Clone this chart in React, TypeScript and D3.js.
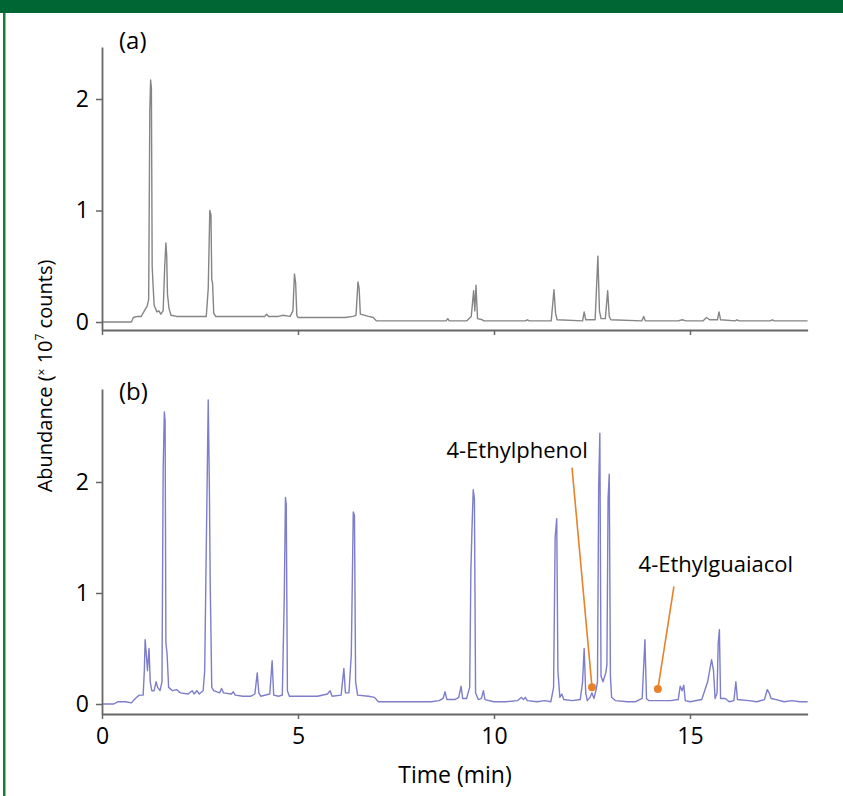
import React, { useEffect, useRef } from 'react';
import * as d3 from 'd3';

// time (min), abundance (x 10^7 counts)
const chromA: [number, number][] = [
    [0, 0], [0.75, 0], [0.8, 0.04], [0.9, 0.05], [1.0, 0.05], [1.08, 0.1], [1.15, 0.14], [1.19, 0.2],
    [1.22, 1.9], [1.24, 2.17], [1.26, 2.1], [1.28, 0.5], [1.3, 0.35], [1.33, 0.15], [1.4, 0.09], [1.45, 0.1],
    [1.5, 0.07], [1.56, 0.1], [1.6, 0.5], [1.63, 0.71], [1.65, 0.6], [1.67, 0.25], [1.71, 0.12], [1.76, 0.06],
    [1.9, 0.05], [2.3, 0.05], [2.66, 0.05], [2.71, 0.3], [2.75, 1.0], [2.78, 0.96], [2.8, 0.38], [2.82, 0.35],
    [2.85, 0.08], [2.9, 0.05], [3.5, 0.05], [4.15, 0.05], [4.2, 0.07], [4.25, 0.05], [4.5, 0.05], [4.6, 0.06],
    [4.8, 0.05], [4.87, 0.1], [4.91, 0.43], [4.94, 0.35], [4.97, 0.06], [5.0, 0.04], [5.6, 0.04], [6.2, 0.04],
    [6.4, 0.05], [6.48, 0.06], [6.53, 0.36], [6.56, 0.3], [6.59, 0.07], [6.8, 0.05], [6.92, 0.04], [7.0, 0.01],
    [8.0, 0.01], [8.78, 0.01], [8.82, 0.03], [8.86, 0.01], [9.3, 0.01], [9.42, 0.05], [9.48, 0.28], [9.51, 0.1],
    [9.54, 0.33], [9.58, 0.03], [9.7, 0.02], [9.74, 0.01], [10.8, 0.01], [10.85, 0.02], [10.9, 0.01],
    [11.46, 0.01], [11.53, 0.29], [11.57, 0.08], [11.61, 0.02], [12.26, 0.01], [12.3, 0.09], [12.34, 0.02],
    [12.58, 0.02], [12.65, 0.59], [12.69, 0.1], [12.73, 0.03], [12.84, 0.03], [12.9, 0.28], [12.94, 0.05],
    [12.98, 0.02], [13.77, 0.01], [13.82, 0.05], [13.86, 0.01], [14.7, 0.01], [14.8, 0.02], [14.9, 0.01],
    [15.33, 0.01], [15.42, 0.04], [15.5, 0.02], [15.7, 0.02], [15.74, 0.09], [15.78, 0.02], [16.15, 0.01],
    [16.2, 0.02], [16.25, 0.01], [17.05, 0.01], [17.1, 0.02], [17.15, 0.01], [18, 0.01]
];

const chromB: [number, number][] = [
    [0, 0], [0.3, 0], [0.4, 0.02], [0.6, 0.02], [0.75, 0.01], [0.85, 0.05], [0.95, 0.08], [1.05, 0.08],
    [1.08, 0.3], [1.1, 0.58], [1.13, 0.45], [1.16, 0.3], [1.2, 0.5], [1.23, 0.2], [1.27, 0.12], [1.33, 0.12],
    [1.38, 0.2], [1.42, 0.15], [1.48, 0.12], [1.53, 0.2], [1.56, 2.1], [1.59, 2.63], [1.61, 2.55], [1.63, 0.55],
    [1.66, 0.45], [1.7, 0.15], [1.8, 0.12], [1.9, 0.13], [2.0, 0.1], [2.2, 0.09], [2.3, 0.12], [2.35, 0.09],
    [2.42, 0.12], [2.48, 0.09], [2.58, 0.12], [2.62, 0.3], [2.66, 1.4], [2.69, 2.2], [2.71, 2.74], [2.74, 1.93],
    [2.76, 1.1], [2.8, 0.15], [2.85, 0.12], [3.0, 0.1], [3.05, 0.14], [3.1, 0.1], [3.3, 0.09], [3.35, 0.11],
    [3.4, 0.08], [3.6, 0.07], [3.8, 0.07], [3.9, 0.09], [3.96, 0.28], [4.0, 0.1], [4.05, 0.07], [4.28, 0.09],
    [4.34, 0.39], [4.38, 0.08], [4.5, 0.07], [4.6, 0.08], [4.65, 0.97], [4.68, 1.86], [4.7, 1.8], [4.73, 0.12],
    [4.78, 0.07], [5.5, 0.07], [5.75, 0.09], [5.82, 0.12], [5.87, 0.07], [6.1, 0.08], [6.17, 0.32], [6.21, 0.1],
    [6.3, 0.1], [6.36, 0.45], [6.41, 1.73], [6.44, 1.7], [6.47, 0.2], [6.52, 0.08], [6.8, 0.07], [6.95, 0.06],
    [7.05, 0.02], [7.5, 0.02], [8.0, 0.02], [8.4, 0.02], [8.6, 0.03], [8.7, 0.05], [8.75, 0.11], [8.8, 0.04],
    [9.0, 0.04], [9.1, 0.06], [9.16, 0.16], [9.2, 0.05], [9.3, 0.05], [9.38, 0.15], [9.41, 1.2], [9.44, 1.6],
    [9.47, 1.93], [9.5, 1.85], [9.53, 0.1], [9.6, 0.04], [9.68, 0.05], [9.73, 0.12], [9.77, 0.04], [10.0, 0.02],
    [10.3, 0.02], [10.6, 0.03], [10.7, 0.06], [10.75, 0.04], [10.8, 0.06], [10.85, 0.03], [11.1, 0.02],
    [11.3, 0.03], [11.45, 0.02], [11.52, 0.15], [11.56, 1.5], [11.6, 1.67], [11.63, 0.3], [11.68, 0.06],
    [11.73, 0.09], [11.78, 0.04], [12.0, 0.03], [12.2, 0.04], [12.26, 0.2], [12.3, 0.5], [12.34, 0.1],
    [12.38, 0.03], [12.45, 0.06], [12.5, 0.1], [12.55, 0.05], [12.6, 0.12], [12.64, 0.2], [12.67, 1.95],
    [12.7, 2.44], [12.73, 0.25], [12.78, 0.2], [12.85, 0.28], [12.88, 0.35], [12.91, 1.85], [12.94, 2.07],
    [12.97, 0.25], [13.0, 0.06], [13.1, 0.03], [13.4, 0.02], [13.6, 0.02], [13.78, 0.05], [13.85, 0.58],
    [13.89, 0.05], [13.95, 0.03], [14.2, 0.03], [14.5, 0.03], [14.7, 0.04], [14.75, 0.16], [14.8, 0.12],
    [14.84, 0.17], [14.88, 0.03], [15.0, 0.02], [15.3, 0.04], [15.45, 0.2], [15.55, 0.4], [15.6, 0.3],
    [15.64, 0.05], [15.69, 0.1], [15.72, 0.55], [15.75, 0.67], [15.78, 0.05], [15.9, 0.05], [16.0, 0.02],
    [16.12, 0.03], [16.17, 0.2], [16.21, 0.04], [16.5, 0.03], [16.7, 0.02], [16.9, 0.04], [16.97, 0.13],
    [17.02, 0.1], [17.07, 0.05], [17.2, 0.04], [17.4, 0.02], [17.6, 0.03], [17.8, 0.02], [18, 0.02]
];

const timeTicks = [0, 5, 10, 15];
const abundanceTicks = [0, 1, 2];

const compoundNames = ['4-Ethylphenol', '4-Ethylguaiacol'];
const compoundPeaks: [number, number][] = [[12.5, 0.15], [14.18, 0.135]];
const compoundLineTops: [number, number][] = [[11.99, 2.13], [14.59, 1.06]];
const compoundLabelPos: [number, number][] = [[10.59, 2.22], [15.66, 1.19]];

const FONT = "'Open Sans', 'Noto Sans', sans-serif";

export default function App() {
    const ref = useRef<SVGSVGElement>(null);

    useEffect(() => {
        const svg = d3.select(ref.current);
        svg.selectAll('*').remove();

        // frame
        svg.append('rect').attr('x', 0).attr('y', 0).attr('width', 843).attr('height', 13).attr('fill', '#006633');
        svg.append('rect').attr('x', 3).attr('y', 13).attr('width', 2.5).attr('height', 783).attr('fill', '#1d7a3e');

        const x = d3.scaleLinear().domain([0, 18]).range([102, 807.6]);

        const panels = [
            { data: chromA, color: '#858585', top: 47, bottom: 330, zero: 322, unit: 111.5, tag: '(a)', tagY: 49, labels: false },
            { data: chromB, color: '#7d7dcb', top: 389, bottom: 714, zero: 704, unit: 111, tag: '(b)', tagY: 400, labels: true }
        ];

        const yScales: d3.ScaleLinear<number, number>[] = [];

        panels.forEach(p => {
            const y = d3.scaleLinear()
                .domain([(p.zero - p.bottom) / p.unit, (p.zero - p.top) / p.unit])
                .range([p.bottom, p.top]);
            yScales.push(y);

            // trace
            svg.append('path')
                .datum(p.data)
                .attr('fill', 'none')
                .attr('stroke', p.color)
                .attr('stroke-width', 1.4)
                .attr('stroke-linejoin', 'round')
                .attr('d', d3.line<[number, number]>()
                    .x(d => x(d[0]))
                    .y(d => y(d[1])));

            // x axis
            const gx = svg.append('g')
                .attr('transform', 'translate(0,' + p.bottom + ')')
                .call(d3.axisBottom(x)
                    .tickValues(timeTicks)
                    .tickSize(5)
                    .tickSizeOuter(0)
                    .tickPadding(9)
                    .tickFormat(p.labels ? (d => String(d)) : () => ''));

            // y axis
            const gy = svg.append('g')
                .attr('transform', 'translate(102,0)')
                .call(d3.axisLeft(y)
                    .tickValues(abundanceTicks)
                    .tickSize(6)
                    .tickSizeOuter(0)
                    .tickPadding(7)
                    .tickFormat(d => String(d)));

            [gx, gy].forEach(g => {
                g.select('.domain').attr('stroke', '#666').attr('stroke-width', 1.8);
                g.selectAll('.tick line').attr('stroke', '#666').attr('stroke-width', 1.5);
                g.selectAll('.tick text')
                    .attr('fill', '#000')
                    .style('font-family', FONT)
                    .style('font-size', '23px');
            });

            svg.append('text')
                .attr('x', 119)
                .attr('y', p.tagY)
                .attr('fill', '#000')
                .style('font-family', FONT)
                .style('font-size', '24px')
                .text(p.tag);
        });

        // annotations on panel (b)
        const yb = yScales[1];
        compoundNames.forEach((name, i) => {
            svg.append('line')
                .attr('x1', x(compoundLineTops[i][0]))
                .attr('y1', yb(compoundLineTops[i][1]))
                .attr('x2', x(compoundPeaks[i][0]))
                .attr('y2', yb(compoundPeaks[i][1]))
                .attr('stroke', '#e8822a')
                .attr('stroke-width', 1.6);
            svg.append('circle')
                .attr('cx', x(compoundPeaks[i][0]))
                .attr('cy', yb(compoundPeaks[i][1]))
                .attr('r', 4)
                .attr('fill', '#e8822a');
            svg.append('text')
                .attr('x', x(compoundLabelPos[i][0]))
                .attr('y', yb(compoundLabelPos[i][1]))
                .attr('text-anchor', 'middle')
                .attr('fill', '#000')
                .style('font-family', FONT)
                .style('font-size', '22px')
                .text(name);
        });

        // axis titles
        svg.append('text')
            .attr('x', 455)
            .attr('y', 783)
            .attr('text-anchor', 'middle')
            .attr('fill', '#000')
            .style('font-family', FONT)
            .style('font-size', '23px')
            .text('Time (min)');

        const yt = svg.append('text')
            .attr('transform', 'translate(52,376) rotate(-90)')
            .attr('text-anchor', 'middle')
            .attr('fill', '#000')
            .style('font-family', FONT)
            .style('font-size', '20px');
        yt.append('tspan').text('Abundance (');
        yt.append('tspan').attr('font-size', '12px').attr('dy', -6).text('×');
        yt.append('tspan').attr('dy', 6).text(' 10');
        yt.append('tspan').attr('font-size', '12px').attr('dy', -8).text('7');
        yt.append('tspan').attr('dy', 8).text(' counts)');
    }, []);

    return (
        <svg ref={ref} width={843} height={796}
            style={{ position: 'absolute', left: 0, top: 0, background: '#fff' }} />
    );
}
